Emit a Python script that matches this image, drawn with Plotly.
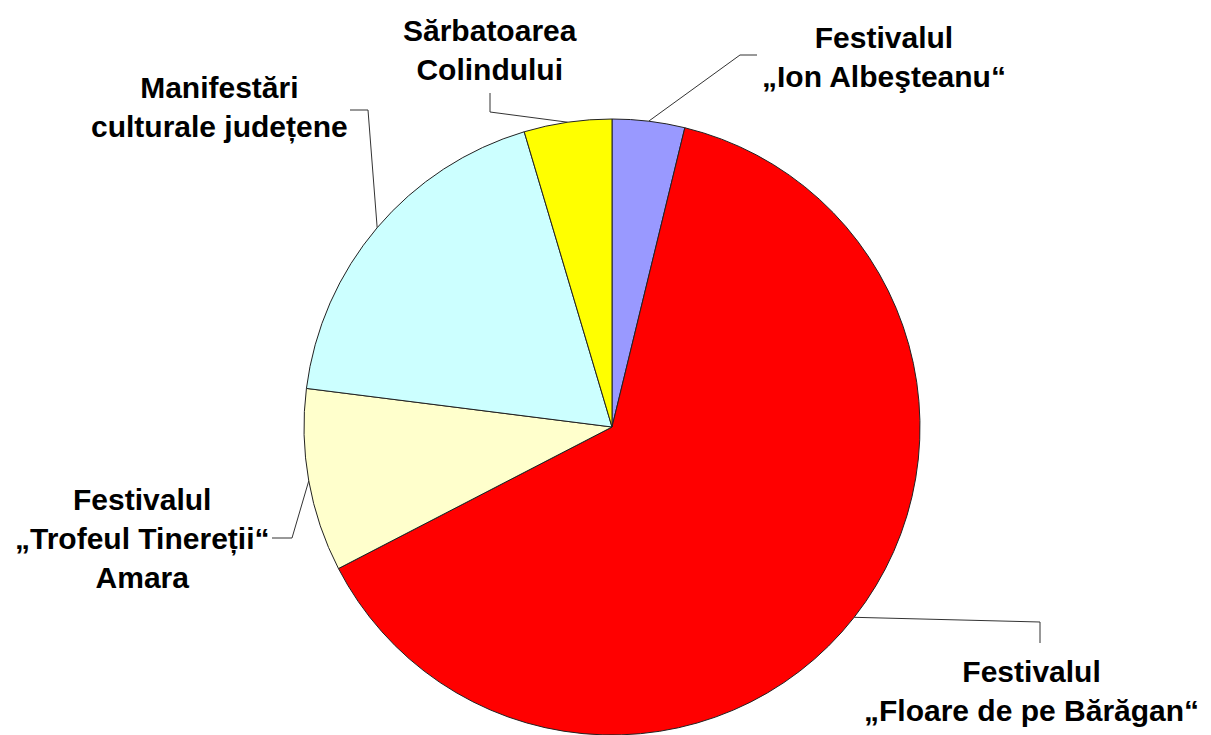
import math
import plotly.graph_objects as go

labels = [
    "Festivalul<br>„Ion Albeşteanu“",
    "Festivalul<br>„Floare de pe Bărăgan“",
    "Festivalul<br>„Trofeul Tinereții“<br>Amara",
    "Manifestări<br>culturale județene",
    "Sărbatoarea<br>Colindului",
]
values = [3.8, 63.6, 9.6, 18.4, 4.6]
colors = ["#9999FF", "#FF0000", "#FFFFCC", "#CCFFFF", "#FFFF00"]

# page body has an 8px margin
OFF = 8
W, H = 1195, 727
cx, cy, r = 612, 427, 308

# label centre and leader elbow points, in window pixels
label_pos = [(884, 57), (1031, 691), (142, 538), (219, 108), (490, 50)]
elbows = [
    [(740, 55), (757, 55)],
    [(1040, 622), (1040, 643)],
    [(292, 538), (272, 538)],
    [(368, 110), (350, 110)],
    [(490, 112), (490, 93)],
]


def px(x, y):
    return (x - OFF) / W, 1 - (y - OFF) / H


fig = go.Figure()
fig.add_trace(go.Pie(
    labels=labels,
    values=values,
    sort=False,
    direction="clockwise",
    rotation=0,
    marker=dict(colors=colors, line=dict(color="#222222", width=1)),
    textinfo="none",
    hoverinfo="label+percent",
    showlegend=False,
    domain=dict(x=[px(cx - r, 0)[0], px(cx + r, 0)[0]],
                y=[max(0, px(0, cy + r)[1]), px(0, cy - r)[1]]),
))

total = sum(values)
cum = 0
for i, v in enumerate(values):
    mid = (cum + v / 2) / total * 2 * math.pi
    cum += v
    pts = [(cx + r * math.sin(mid), cy - r * math.cos(mid))] + elbows[i]
    for (x0, y0), (x1, y1) in zip(pts[:-1], pts[1:]):
        a0, b0 = px(x0, y0)
        a1, b1 = px(x1, y1)
        fig.add_shape(type="line", xref="paper", yref="paper",
                      x0=a0, y0=b0, x1=a1, y1=b1,
                      line=dict(color="#333333", width=1))
    lx, ly = px(*label_pos[i])
    fig.add_annotation(
        text="<b>" + labels[i] + "</b>",
        x=lx, y=ly, xref="paper", yref="paper",
        xanchor="center", yanchor="middle",
        showarrow=False, align="center",
        font=dict(family="Liberation Sans, Arial, sans-serif", size=30, color="#000000"),
    )

fig.update_layout(
    width=W, height=H,
    margin=dict(l=0, r=0, t=0, b=0),
    paper_bgcolor="white",
    plot_bgcolor="white",
)

fig.write_html("out.html")
